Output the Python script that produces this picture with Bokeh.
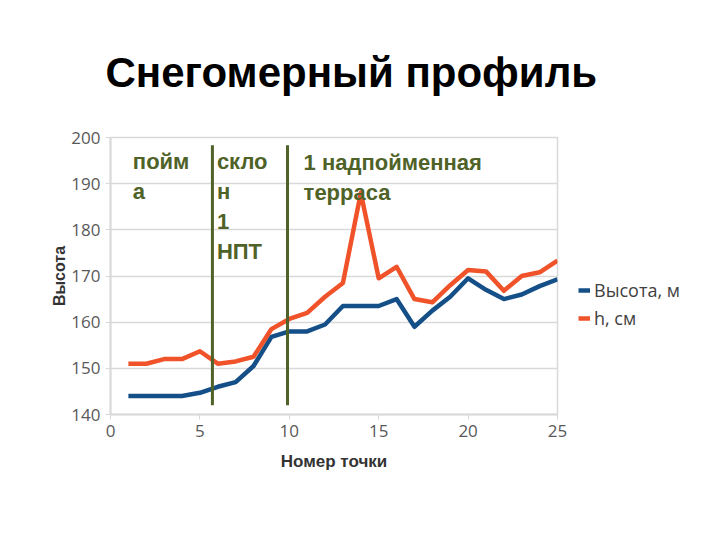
from bokeh.plotting import figure
from bokeh.models import ColumnDataSource, Legend, LegendItem, FixedTicker, Range1d
from bokeh.core.properties import value
from bokeh.embed import file_html
from bokeh.resources import INLINE

points = list(range(1, 26))
height_m = [144, 144, 144, 144, 144.7, 146, 147, 150.5, 156.8, 158, 158, 159.5, 163.5,
            163.5, 163.5, 165, 159, 162.5, 165.5, 169.5, 167, 165, 166, 167.8, 169.3]
snow_cm = [151, 151, 152, 152, 153.7, 151, 151.5, 152.5, 158.5, 160.7, 162, 165.5, 168.5,
           188, 169.5, 172, 165, 164.3, 168, 171.3, 171, 166.8, 170, 170.8, 173.3]
zone_bounds = [5.7, 9.9]
zone_y = [142, 198.3]
zone_labels = ["пойм\nа", "скло\nн\n1\nНПТ", "1 надпойменная\nтерраса"]
zone_label_x = [1.25, 5.95, 10.8]
zone_label_y = [197.5, 197.5, 197.4]

BLUE = "#154f88"
ORANGE = "#f0522a"
OLIVE = "#4f6228"
GRID = "#d9d9d9"
TICK = "#595959"

p = figure(frame_width=447, frame_height=277, output_backend="svg", toolbar_location=None,
           x_range=Range1d(0, 25), y_range=Range1d(140, 200),
           min_border_left=110, min_border_right=163, min_border_top=137,
           min_border_bottom=126)

p.title.text = "Снегомерный профиль"
p.title.text_font = "Liberation Sans"
p.title.text_font_size = "42px"
p.title.text_font_style = "bold"
p.title.text_color = "#000000"
p.title.align = "left"
p.title.offset = -5
p.title.standoff = 84

src = ColumnDataSource(dict(x=points, h=height_m, s=snow_cm))
r1 = p.line("x", "h", source=src, line_color=BLUE, line_width=4.5, line_join="round")
r2 = p.line("x", "s", source=src, line_color=ORANGE, line_width=4.5, line_join="round")

p.segment(x0=zone_bounds, x1=zone_bounds, y0=[zone_y[0]] * 2, y1=[zone_y[1]] * 2,
          line_color=OLIVE, line_width=3)

p.text(x=zone_label_x, y=zone_label_y, text=zone_labels, text_color=OLIVE,
       text_font=value("Liberation Sans"), text_font_size="22px", text_font_style="bold",
       text_baseline="top", text_line_height=1.2)

p.xaxis.ticker = FixedTicker(ticks=[0, 5, 10, 15, 20, 25])
p.yaxis.ticker = FixedTicker(ticks=[140, 150, 160, 170, 180, 190, 200])
for ax in (p.xaxis, p.yaxis):
    ax.axis_line_color = GRID
    ax.axis_line_width = 2
    ax.major_tick_line_color = GRID
    ax.major_tick_out = 5
    ax.major_tick_in = 0
    ax.minor_tick_line_color = None
    ax.major_label_text_font = "Open Sans"
    ax.major_label_text_font_size = "17px"
    ax.major_label_text_color = TICK
    ax.axis_label_text_font = "Liberation Sans"
    ax.axis_label_text_font_style = "bold"
    ax.axis_label_text_color = "#333333"
p.xaxis.axis_label_text_font_size = "17px"
p.yaxis.axis_label_text_font_size = "16px"
p.xaxis.axis_label = "Номер точки"
p.yaxis.axis_label = "Высота"
p.xaxis.axis_label_standoff = 12
p.yaxis.axis_label_standoff = 0

p.xgrid.grid_line_color = None
p.ygrid.grid_line_color = GRID
p.ygrid.grid_line_width = 1.5
p.outline_line_color = GRID
p.outline_line_width = 1.5

legend = Legend(items=[LegendItem(label="Высота, м", renderers=[r1]),
                       LegendItem(label="h, см", renderers=[r2])],
                location=(21, 84), border_line_color=None, background_fill_alpha=0,
                glyph_width=12, glyph_height=14, label_text_font="Open Sans",
                label_text_font_size="18px", label_text_color="#404040",
                spacing=4, padding=4, label_standoff=4, margin=0)
p.add_layout(legend, "right")

open("out.html", "w").write(file_html(p, INLINE))
